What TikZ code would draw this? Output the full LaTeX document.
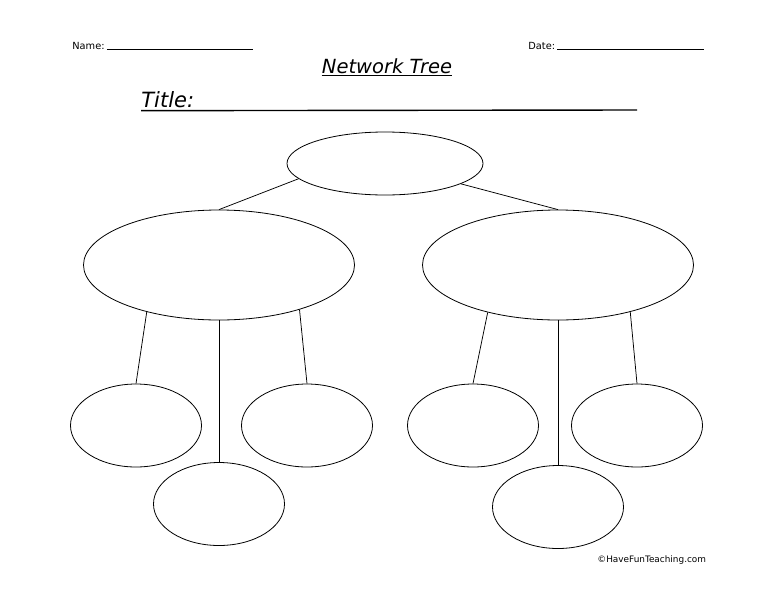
\documentclass[tikz,border=0pt]{standalone}
\usepackage{fontspec}
\usetikzlibrary{shapes.geometric}
\newfontfamily\handfont{DejaVu Sans}

\tikzset{every picture/.style={line width=0.75pt}}
\tikzset{bubble/.style={draw, ellipse, inner sep=0pt, line width=0.8pt},
	bigbubble/.style={bubble, minimum width=271, minimum height=110},
	leafbubble/.style={bubble, minimum width=131, minimum height=83},
	rule/.style={line width=0.9pt}}

\begin{document}
\begin{tikzpicture}[x=1pt,y=1pt,yscale=-1,xscale=1]
	\useasboundingbox (0,0) rectangle (776,600); %set diagram 776 wide and 600 high

	%Shape: Ellipse (root)
	\node [bubble, minimum width=196, minimum height=63] (root) at (385,163.5) {};
	%Shape: Ellipse (left branch)
	\node [bigbubble] (left) at (219,265) {};
	%Shape: Ellipse (right branch)
	\node [bigbubble] (right) at (558,265) {};

	%Shape: Ellipse (left leaves)
	\node [leafbubble] (leftA) at (136,425.5) {};
	\node [leafbubble] (leftB) at (219,504) {};
	\node [leafbubble] (leftC) at (307,425.5) {};
	%Shape: Ellipse (right leaves)
	\node [leafbubble] (rightA) at (473,425.5) {};
	\node [leafbubble] (rightB) at (558,507) {};
	\node [leafbubble] (rightC) at (637,425.5) {};

	%Straight Lines
	\draw (root.190) -- (left.north) ;
	\draw (root.345) -- (right.north) ;
	\draw (left.213) -- (leftA.north) ;
	\draw (left.south) -- (leftB.north) ;
	\draw (left.331) -- (leftC.north) ;
	\draw (right.214) -- (rightA.north) ;
	\draw (right.south) -- (rightB.north) ;
	\draw (right.327) -- (rightC.north) ;

	% Text Node
	\node [anchor=base west, inner sep=0pt, font=\handfont\fontsize{9.8}{11}\selectfont] (name) at (72,49) {Name:};
	\coordinate (nameEnd) at (253,49);
	\draw [line width=0.8pt] ([xshift=2pt]name.base east) -- (nameEnd) ;
	% Text Node
	\node [anchor=base west, inner sep=0pt, font=\handfont\fontsize{9.8}{11}\selectfont] (date) at (528,49) {Date:};
	\coordinate (dateEnd) at (704,49);
	\draw [line width=0.8pt] ([xshift=2pt]date.base east) -- (dateEnd) ;
	% Text Node
	\node [anchor=base, inner xsep=0pt, inner ysep=2pt, font=\handfont\itshape\fontsize{19.5}{22}\selectfont] (heading) at (387,73) {Network Tree};
	\draw [rule, line width=1.4pt] (heading.south west) -- (heading.south east) ;
	% Text Node
	\node [anchor=base west, inner xsep=0pt, inner ysep=3pt, font=\handfont\itshape\fontsize{21}{24}\selectfont] (title) at (141,107) {Title:};
	\coordinate (titleEnd) at (637,110);
	\draw [rule, line width=1.4pt] (title.south west) -- (titleEnd) ;
	% Text Node
	\node [anchor=base west, inner sep=0pt, font=\handfont\fontsize{8.9}{10}\selectfont] (credit) at (597,562) {©HaveFunTeaching.com};

\end{tikzpicture}
\end{document}
